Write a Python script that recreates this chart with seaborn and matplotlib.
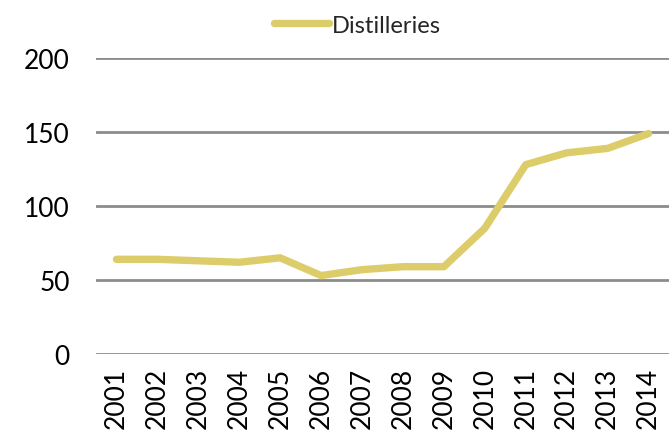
import pandas as pd
import seaborn as sns
import matplotlib.pyplot as plt

# ---- Data ----
years = ["2001", "2002", "2003", "2004", "2005", "2006", "2007",
         "2008", "2009", "2010", "2011", "2012", "2013", "2014"]
distilleries = [64, 64, 63, 62, 65, 53, 57, 59, 59, 85, 128, 136, 139, 149]
y_ticks = [0, 50, 100, 150, 200]

df = pd.DataFrame({"Year": years, "Distilleries": distilleries})

sns.set_style("white")
plt.rcParams["font.family"] = ["Lato", "DejaVu Sans"]

fig = plt.figure(figsize=(6.69, 4.35), dpi=100)
ax = fig.add_axes([0.1435, 0.184, 0.8565, 0.680])

sns.lineplot(data=df, x="Year", y="Distilleries", ax=ax,
             color="#DCCD6A", linewidth=5.3, label="Distilleries",
             solid_capstyle="round", sort=False)

ax.set_xlim(-0.5, len(years) - 0.5)
ax.set_ylim(0, 200)
ax.set_yticks(y_ticks)
ax.yaxis.grid(True, color="#8c8c8c", linewidth=2)
ax.set_axisbelow(True)
for s in ax.spines.values():
    s.set_visible(False)

ax.set_xlabel("")
ax.set_ylabel("")
ax.tick_params(axis="y", length=0, pad=19, labelsize=19, labelcolor="black")
ax.tick_params(axis="x", length=0, pad=9, labelsize=19, labelcolor="black",
               labelrotation=90)

ax.legend(loc="center", bbox_to_anchor=(0.535, 0.94), bbox_transform=fig.transFigure,
          frameon=False, fontsize=17, handlelength=2.3, handletextpad=0.15)

fig.savefig("out.png", dpi=100)
